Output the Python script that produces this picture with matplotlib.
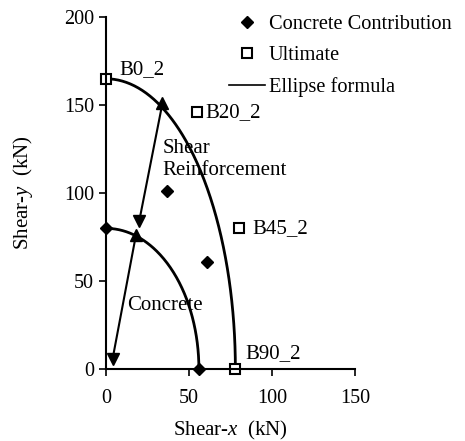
import numpy as np
import matplotlib
matplotlib.use("Agg")
import matplotlib.pyplot as plt
from matplotlib.lines import Line2D

plt.rcParams['font.family'] = ['Liberation Serif', 'DejaVu Serif']
plt.rcParams['mathtext.fontset'] = 'custom'
plt.rcParams['mathtext.it'] = 'Liberation Serif:italic'
plt.rcParams['mathtext.rm'] = 'Liberation Serif'

# concrete contribution points
cc_x = [0, 37, 61, 56]
cc_y = [80, 101, 61, 0]
# ultimate points
ult_names = ["B0_2", "B20_2", "B45_2", "B90_2"]
ult_x = [0, 55, 80, 78]
ult_y = [165, 146, 80, 0]
# ellipse semi-axes (x intercept, y intercept)
outer_ab = (78, 165)
inner_ab = (56, 80)
# arrow vectors
shear_x = [34, 20]
shear_y = [151, 84]
conc_x = [18, 4]
conc_y = [76, 6]

fig = plt.figure(figsize=(4.65, 4.41), dpi=100)
ax = fig.add_axes([0.228, 0.163, 0.535, 0.798])

t = np.linspace(0, np.pi / 2, 200)
for a, b in [outer_ab, inner_ab]:
    ax.plot(a * np.cos(t), b * np.sin(t), color='black', lw=2, clip_on=False)

ax.plot(shear_x, shear_y, color='black', lw=1.5)
ax.plot(shear_x[0], shear_y[0], '^', color='black', ms=8)
ax.plot(shear_x[1], shear_y[1], 'v', color='black', ms=8)
ax.plot(conc_x, conc_y, color='black', lw=1.5)
ax.plot(conc_x[0], conc_y[0], '^', color='black', ms=8)
ax.plot(conc_x[1], conc_y[1], 'v', color='black', ms=8)

ax.plot(cc_x, cc_y, 'D', color='black', ms=6, ls='none', clip_on=False)
ax.plot(ult_x, ult_y, 's', mfc='white', mec='black', mew=1.5, ms=7, ls='none', clip_on=False)

offs = [(8, 170), (60, 146), (88, 80), (84, 9)]
for name, (ox, oy) in zip(ult_names, offs):
    ax.text(ox, oy, name, fontsize=15, va='center', ha='left')

ax.text(34, 119, "Shear\nReinforcement", fontsize=15, va='center', ha='left', linespacing=1.25)
ax.text(13, 36, "Concrete", fontsize=15, va='center', ha='left')

ax.set_xlim(0, 150)
ax.set_ylim(0, 200)
ax.set_xticks([0, 50, 100, 150])
ax.set_yticks([0, 50, 100, 150, 200])
ax.tick_params(labelsize=14.5, direction='out', length=5, width=1.2)
ax.tick_params(axis='x', pad=9)
for s in ['top', 'right']:
    ax.spines[s].set_visible(False)
for s in ['left', 'bottom']:
    ax.spines[s].set_linewidth(1.5)

ax.set_xlabel("Shear-$\\mathit{x}$  (kN)", fontsize=15, labelpad=8)
ax.set_ylabel("Shear-$\\mathit{y}$  (kN)", fontsize=15, labelpad=21)

handles = [
    Line2D([], [], marker='D', color='black', ls='none', ms=6),
    Line2D([], [], marker='s', mfc='white', mec='black', mew=1.5, ls='none', ms=7),
    Line2D([], [], color='black', lw=1.2),
]
ax.legend(handles, ["Concrete Contribution", "Ultimate", "Ellipse formula"],
          loc='upper left', bbox_to_anchor=(0.494, 1.008), frameon=False,
          borderpad=0, borderaxespad=0,
          fontsize=14.7, handlelength=1.75, handletextpad=0.2, labelspacing=0.6)

fig.savefig("out.png", dpi=100)
